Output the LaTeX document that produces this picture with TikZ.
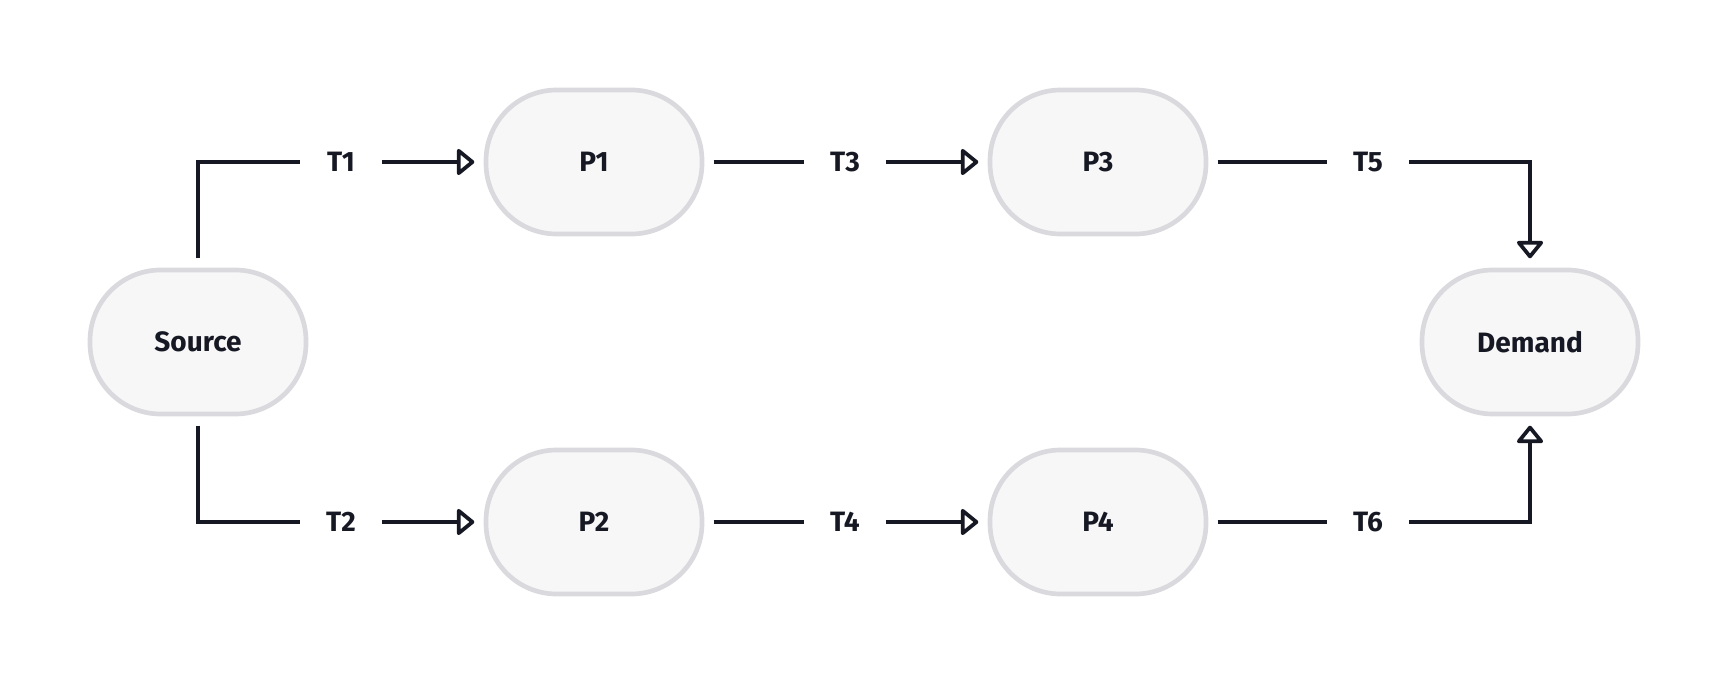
\documentclass[tikz,border=0pt]{standalone}
\usepackage{fontspec}
\setmainfont{Fira Sans}
\usetikzlibrary{arrows.meta}
\definecolor{ink}{HTML}{161823}
\definecolor{pillfill}{HTML}{F7F7F7}
\definecolor{pilledge}{HTML}{D9D9DE}

\begin{document}
\begin{tikzpicture}[x=0.75pt,y=-0.75pt]
        \useasboundingbox (0,0) rectangle (1728,684);
        \tikzset{pill/.style={draw=pilledge,fill=pillfill,line width=3.5pt,rounded corners=53pt,
                minimum width=162pt,minimum height=108pt,inner sep=0pt,
                font=\fontsize{21}{25}\selectfont\bfseries,text=ink},
                lbl/.style={minimum width=61pt,inner sep=0pt,font=\fontsize{21}{25}\selectfont\bfseries,text=ink},
                fleche/.style={draw=ink,line width=2.8pt},
                flechetip/.style={fleche,-{Triangle[open,length=14pt,width=22pt,line join=round]},shorten >=7pt}}
        % places
        \node[pill] (S) at (198,342) {Source};
        \node[pill] (P1) at (594,162) {P1};
        \node[pill] (P3) at (1098,162) {P3};
        \node[pill] (P2) at (594,522) {P2};
        \node[pill] (P4) at (1098,522) {P4};
        \node[pill] (D) at (1530,342) {Demand};
        % transitions
        \node[lbl] (T1) at (341,162) {T1};
        \node[lbl] (T2) at (341,522) {T2};
        \node[lbl] (T3) at (845,162) {T3};
        \node[lbl] (T4) at (845,522) {T4};
        \node[lbl] (T5) at (1368,162) {T5};
        \node[lbl] (T6) at (1368,522) {T6};
        % arcs
        \draw[fleche,shorten <=7pt] (S.north) |- (T1.west);
        \draw[flechetip] (T1.east) -- (P1.west);
        \draw[fleche,shorten <=7pt] (S.south) |- (T2.west);
        \draw[flechetip] (T2.east) -- (P2.west);
        \draw[fleche,shorten <=7pt] (P1.east) -- (T3.west);
        \draw[flechetip] (T3.east) -- (P3.west);
        \draw[fleche,shorten <=7pt] (P2.east) -- (T4.west);
        \draw[flechetip] (T4.east) -- (P4.west);
        \draw[fleche,shorten <=7pt] (P3.east) -- (T5.west);
        \draw[flechetip] (T5.east) -| (D.north);
        \draw[fleche,shorten <=7pt] (P4.east) -- (T6.west);
        \draw[flechetip] (T6.east) -| (D.south);
\end{tikzpicture}
\end{document}
